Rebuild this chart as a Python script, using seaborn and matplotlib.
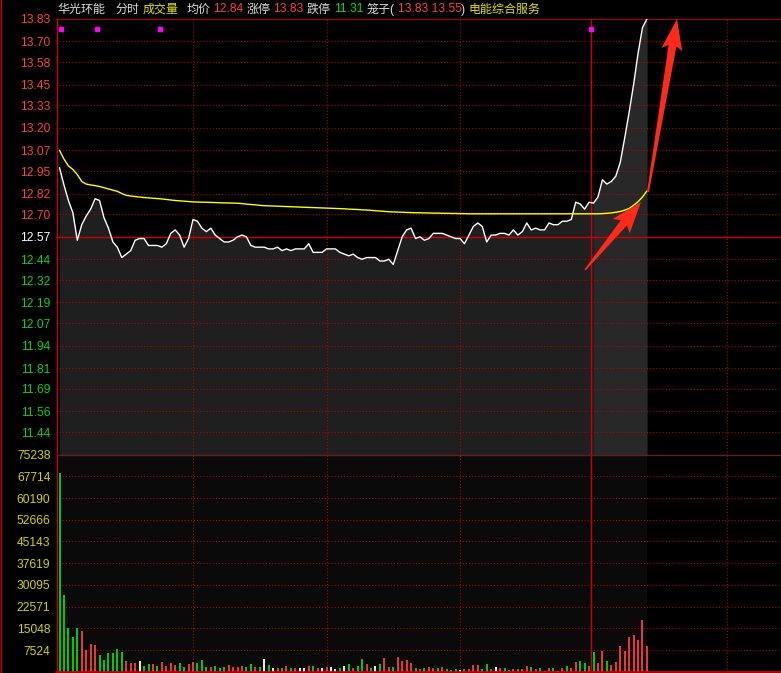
import numpy as np
import pandas as pd
import matplotlib
matplotlib.use("Agg")
import matplotlib.pyplot as plt
import seaborn as sns
from matplotlib.patches import Polygon
from matplotlib.lines import Line2D
from matplotlib.transforms import IdentityTransform, blended_transform_factory

# ---------------- data ----------------
minutes = list(range(133))
price = [12.97, 12.87, 12.78, 12.71, 12.55, 12.64, 12.69, 12.73, 12.79, 12.78,
         12.68, 12.62, 12.54, 12.51, 12.45, 12.47, 12.49, 12.55, 12.56, 12.56,
         12.52, 12.52, 12.52, 12.51, 12.53, 12.59, 12.61, 12.58, 12.51, 12.56,
         12.67, 12.66, 12.62, 12.60, 12.62, 12.58, 12.56, 12.54, 12.54, 12.55,
         12.57, 12.58, 12.57, 12.52, 12.51, 12.51, 12.51, 12.50, 12.50, 12.51,
         12.49, 12.50, 12.49, 12.50, 12.50, 12.50, 12.53, 12.48, 12.48, 12.48,
         12.50, 12.50, 12.50, 12.48, 12.47, 12.46, 12.47, 12.45, 12.44, 12.45,
         12.45, 12.45, 12.43, 12.43, 12.44, 12.41, 12.49, 12.57, 12.61, 12.62,
         12.56, 12.57, 12.55, 12.56, 12.59, 12.59, 12.59, 12.58, 12.57, 12.56,
         12.56, 12.53, 12.58, 12.63, 12.65, 12.63, 12.54, 12.58, 12.58, 12.59,
         12.59, 12.58, 12.61, 12.58, 12.60, 12.65, 12.61, 12.62, 12.61, 12.61,
         12.65, 12.64, 12.64, 12.66, 12.66, 12.67, 12.77, 12.76, 12.73, 12.77,
         12.765, 12.80, 12.90, 12.875, 12.89, 12.92, 13.00, 13.14, 13.29, 13.45,
         13.63, 13.78, 13.83]
avg_price = [13.07, 13.02, 12.98, 12.96, 12.93, 12.89, 12.875, 12.870, 12.866, 12.861,
             12.854, 12.847, 12.840, 12.833, 12.820, 12.810, 12.806, 12.803, 12.800, 12.797,
             12.795, 12.793, 12.791, 12.789, 12.786, 12.783, 12.780, 12.778, 12.776, 12.774,
             12.772, 12.771, 12.770, 12.770, 12.769, 12.768, 12.767, 12.766, 12.766, 12.765,
             12.764, 12.762, 12.759, 12.757, 12.755, 12.752, 12.750, 12.749, 12.748, 12.747,
             12.746, 12.745, 12.744, 12.743, 12.742, 12.741, 12.740, 12.739, 12.738, 12.737,
             12.736, 12.735, 12.734, 12.733, 12.732, 12.730, 12.729, 12.728, 12.726, 12.725,
             12.723, 12.721, 12.719, 12.717, 12.715, 12.714, 12.713, 12.712, 12.711, 12.710,
             12.709, 12.709, 12.708, 12.708, 12.707, 12.707, 12.706, 12.706, 12.705, 12.705,
             12.704, 12.704, 12.703, 12.703, 12.703, 12.703, 12.703, 12.703, 12.703, 12.703,
             12.703, 12.703, 12.703, 12.703, 12.703, 12.703, 12.703, 12.703, 12.703, 12.703,
             12.703, 12.703, 12.703, 12.703, 12.703, 12.703, 12.703, 12.703, 12.703, 12.703,
             12.703, 12.703, 12.704, 12.706, 12.708, 12.712, 12.716, 12.724, 12.734, 12.752,
             12.773, 12.800, 12.835]
volume = [68700, 26500, 15000, 12100, 15000, 14100, 7500, 9600, 9300, 5800,
          4100, 6600, 6600, 7900, 6900, 3800, 2900, 2900, 3800, 2000,
          2700, 2700, 2000, 3400, 2000, 2900, 2400, 2900, 1600, 2700,
          3400, 2900, 4100, 1600, 1600, 2000, 1400, 1600, 2300, 1600,
          1600, 2000, 1600, 2700, 1600, 1600, 4300, 2300, 1400, 1400,
          1400, 2000, 1400, 1400, 1400, 1400, 2000, 2000, 1400, 1400,
          1600, 1600, 900, 1400, 2000, 2700, 1350, 2000, 4400, 2700,
          1350, 2000, 2700, 4800, 1700, 1700, 5100, 3700, 4100, 3000,
          1350, 860, 1350, 1700, 1350, 1350, 1700, 860, 600, 860,
          600, 860, 860, 2350, 2350, 860, 2700, 860, 1700, 1350,
          1350, 600, 860, 860, 860, 2000, 1700, 860, 1350, 450,
          1350, 1350, 450, 1350, 2000, 1350, 3400, 3700, 3000, 2000,
          6800, 3000, 7200, 3700, 2350, 3400, 8900, 7200, 12000, 12700,
          11000, 17900, 8900]
direction = [-1, -1, -1, -1, -1, 1, 1, 1, 1, -1,
             -1, -1, -1, -1, -1, 1, 1, 1, 0, -1,
             -1, 1, -1, 1, 1, 1, 1, -1, -1, 1,
             1, -1, -1, -1, 1, -1, -1, -1, 1, 1,
             1, 1, -1, -1, 1, -1, 0, -1, 0, 1,
             -1, 1, -1, 1, 0, 0, 1, -1, 1, 0,
             1, 0, 0, -1, 0, -1, 1, -1, -1, 1,
             -1, 0, -1, 1, 1, -1, 1, 1, 1, 1,
             -1, 1, -1, 1, 1, -1, 1, -1, -1, -1,
             0, -1, 1, 1, 1, -1, -1, 1, 0, 1,
             -1, -1, 1, -1, 1, 1, -1, 1, -1, 0,
             1, -1, 0, 1, -1, 1, 1, -1, -1, 1,
             -1, 1, 1, -1, 1, 1, 1, 1, 1, 1,
             1, 1, 1]
event_minutes = [0.4, 8.5, 22.5, 119.5]

prev_close = 12.57
limit_up = 13.83
limit_down = 11.31
price_ticks = [13.83, 13.70, 13.58, 13.45, 13.33, 13.20, 13.07, 12.95, 12.82, 12.70,
               12.57, 12.44, 12.32, 12.19, 12.07, 11.94, 11.81, 11.69, 11.56, 11.44]
volume_ticks = [75238, 67714, 60190, 52666, 45143, 37619, 30095, 22571, 15048, 7524]
half_hour_lines = [30, 60, 90, 150]
session_break = 119.5

header = [("华光环能", "name"), ("分时", "w"), ("成交量", "y"), ("均价", "w"), ("12.84", "r"),
          ("涨停", "w"), ("13.83", "r"), ("跌停", "w"), ("11.31", "g"), ("笼子(", "w"),
          ("13.83 13.55", "r"), (")", "w"), ("电能综合服务", "y")]
header_x = [57, 115, 143, 187, 213, 247, 273, 307, 334, 367, 398, 461, 469]

# ---------------- style ----------------
sns.set_theme(style="dark")
plt.rcParams["font.family"] = ["Liberation Sans", "Noto Sans CJK SC", "DejaVu Sans"]
FS = 8.64
RED = "#ff4040"
GREEN = "#10d010"
YEL = "#d2d200"
GRID = "#c00000"
W, H = 781, 673

df = pd.DataFrame({"minute": minutes, "price": price, "avg": avg_price,
                   "volume": volume, "direction": direction})

fig = plt.figure(figsize=(W / 100, H / 100), dpi=100, facecolor="black")


def px_rect(x0, y0, x1, y1):
    return [x0 / W, 1 - y1 / H, (x1 - x0) / W, (y1 - y0) / H]


ax = fig.add_axes(px_rect(56, 19, 781, 454.6))
axv = fig.add_axes(px_rect(56, 454.6, 781, 671.8))
x_left, x_right = -0.787, 162.13

for a in (ax, axv):
    a.set_facecolor("black")
    a.set_xlim(x_left, x_right)
    a.set_xticks([])
    a.grid(False)
    for s in a.spines.values():
        s.set_visible(False)

ax.set_ylim(limit_down, limit_up)
axv.set_ylim(0, volume_ticks[0])

# ----- price panel -----
m = df["minute"].to_numpy()
p = df["price"].to_numpy()
ax.fill_between(m, p, limit_down, color="#1f1f1f", lw=0, zorder=1)
right = m >= 120
ax.fill_between(m[right], p[right], limit_down, color="#282828", lw=0, zorder=1)

for t in price_ticks:
    if t in (prev_close, limit_up):
        continue
    ax.axhline(t, color=GRID, lw=0.75, ls=(0, (1, 2)), zorder=2)
for v in half_hour_lines:
    ax.axvline(v, color=GRID, lw=0.75, ls=(0, (1, 2)), zorder=2)
ax.axvline(session_break, color="#d00000", lw=1.0, zorder=2)
ax.axhline(prev_close, color="#d00000", lw=1.0, zorder=2)
ax.axhline(limit_up, color="#d00000", lw=1.2, zorder=2)

sns.lineplot(data=df, x="minute", y="price", ax=ax, color="white", lw=1.0, zorder=4)
sns.lineplot(data=df, x="minute", y="avg", ax=ax, color="#ffff00", lw=1.0, zorder=5)
ax.set_xlabel("")
ax.set_ylabel("")

tr = blended_transform_factory(ax.transData, ax.transAxes)
ax.plot(event_minutes, [0.977] * len(event_minutes), ls="none", marker="s", ms=2.6,
        color="#ff00ff", transform=tr, zorder=6)

ax.set_yticks(price_ticks)
ax.set_yticklabels([f"{t:.2f}" for t in price_ticks])
ax.tick_params(axis="y", length=0, pad=4, labelsize=FS)
for t, lab in zip(price_ticks, ax.get_yticklabels()):
    lab.set_color(RED if t > prev_close else ("white" if t == prev_close else GREEN))

# ----- volume panel -----
axv.fill_between(m, 0, volume_ticks[0], color="#0a0a0a", lw=0, zorder=0)
for t in volume_ticks[1:]:
    axv.axhline(t, color=GRID, lw=0.75, ls=(0, (1, 2)), zorder=1)
for v in half_hour_lines:
    axv.axvline(v, color=GRID, lw=0.75, ls=(0, (1, 2)), zorder=1)
axv.axvline(session_break, color="#d00000", lw=1.0, zorder=2)
cmap = {1: "#ff3c3c", -1: "#00e000", 0: "#ffffff"}
axv.vlines(m, 0, df["volume"], colors=[cmap[d] for d in direction], lw=1.3, zorder=3)
axv.set_yticks(volume_ticks)
axv.set_yticklabels([str(t) for t in volume_ticks])
axv.tick_params(axis="y", length=0, pad=4, labelsize=FS, labelcolor=YEL)

# ----- frame lines -----
def fig_line(x0, y0, x1, y1, color, lw):
    fig.add_artist(Line2D([x0 / W, x1 / W], [1 - y0 / H, 1 - y1 / H], color=color, lw=lw,
                          transform=fig.transFigure))

fig_line(56.5, 19, 56.5, 673, "#d00000", 1.0)
fig_line(0.5, 0, 0.5, 673, "#d00000", 1.0)
fig_line(56, 454.6, 781, 454.6, "#602020", 1.0)
fig_line(56, 671.5, 781, 671.5, "#d00000", 1.2)

# ----- header -----
hc = {"name": "#dcdcdc", "w": "#dcdcdc", "y": "#e0e000", "r": RED, "g": "#00e000"}
for (txt, c), x in zip(header, header_x):
    fig.text(x / W, 1 - 9.5 / H, txt, color=hc[c], fontsize=FS, va="center", ha="left")

# ----- annotation arrows (drawn in pixel space) -----
def tapered_arrow(tail, tip, tail_w, shaft_w, head_w, head_len, sweep=4):
    tail = np.array([tail[0], H - tail[1]], float)
    tip = np.array([tip[0], H - tip[1]], float)
    u = (tip - tail) / np.linalg.norm(tip - tail)
    n = np.array([-u[1], u[0]])
    base = tip - u * head_len
    pts = [tail + n * tail_w / 2, base + n * shaft_w / 2, base - u * sweep + n * head_w / 2,
           tip, base - u * sweep - n * head_w / 2, base - n * shaft_w / 2, tail - n * tail_w / 2]
    fig.add_artist(Polygon(pts, closed=True, facecolor="#ff2a1a", edgecolor="none",
                           transform=IdentityTransform(), zorder=10))

tapered_arrow((585, 270), (641, 202), 1.5, 8, 22, 27)
tapered_arrow((648, 192), (677, 19), 2.0, 8, 21, 27)

fig.savefig("out.png", dpi=100, facecolor="black")
